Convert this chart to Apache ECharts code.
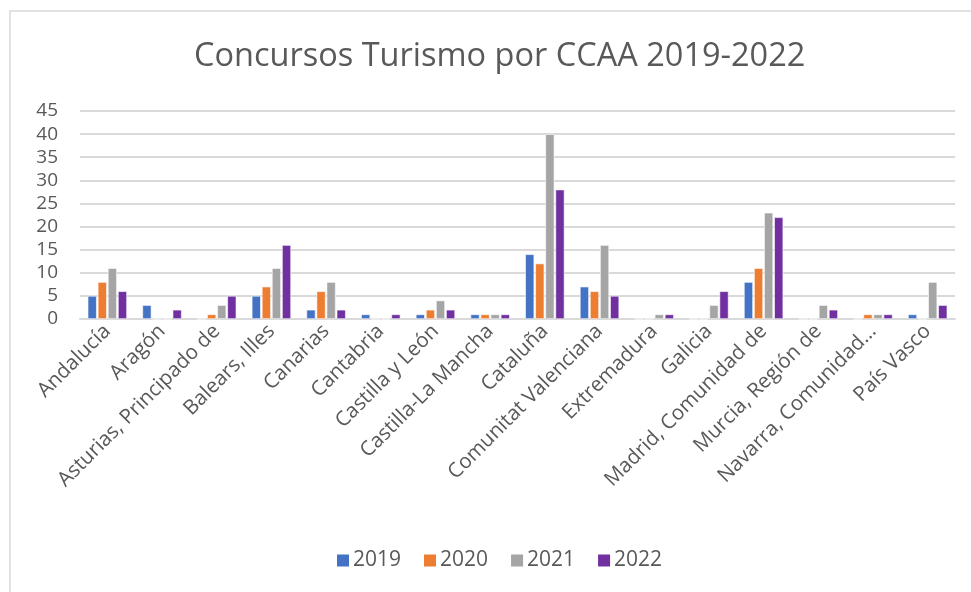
<!DOCTYPE html>
<html>
<head>
<meta charset="utf-8">
<script src="https://cdn.jsdelivr.net/npm/echarts@6/dist/echarts.min.js"></script>
<style>
  html, body { margin: 0; padding: 0; background: #fff; }
  #chart { width: 971px; height: 592px; }
</style>
</head>
<body>
<div id="chart"></div>
<script>
// Concursos por comunidad autónoma
let categories = [
    "Andalucía", "Aragón", "Asturias, Principado de", "Balears, Illes",
    "Canarias", "Cantabria", "Castilla y León", "Castilla-La Mancha",
    "Cataluña", "Comunitat Valenciana", "Extremadura", "Galicia",
    "Madrid, Comunidad de", "Murcia, Región de", "Navarra, Comunidad…", "País Vasco"
];
let years = ["2019", "2020", "2021", "2022"];
let data2019 = [5, 3, 0, 5, 2, 1, 1, 1, 14, 7, 0, 0, 8, 0, 0, 1];
let data2020 = [8, 0, 1, 7, 6, 0, 2, 1, 12, 6, 0, 0, 11, 0, 1, 0];
let data2021 = [11, 0, 3, 11, 8, 0, 4, 1, 40, 16, 1, 3, 23, 3, 1, 8];
let data2022 = [6, 2, 5, 16, 2, 1, 2, 1, 28, 5, 1, 6, 22, 2, 1, 3];
let colors = ["#4472c4", "#ed7d31", "#a5a5a5", "#7030a0"];

let chart = echarts.init(document.getElementById("chart"));
let allData = [data2019, data2020, data2021, data2022];

let series = years.map(function(y, i) {
    return {
        name: y,
        type: "bar",
        data: allData[i],
        barWidth: 9,
        barGap: "12%",
        itemStyle: {
            color: colors[i],
            borderColor: "#fff",
            borderWidth: 0.6
        }
    };
});

let option = {
    animation: false,
    textStyle: { fontFamily: "Open Sans" },
    title: {
        text: "Concursos Turismo por CCAA 2019-2022",
        left: 189,
        top: 35,
        textStyle: {
            fontFamily: "Open Sans",
            fontSize: 32.5,
            fontWeight: "normal",
            color: "#595959"
        }
    },
    legend: {
        bottom: 16,
        left: 330,
        itemWidth: 14,
        itemHeight: 14,
        itemGap: 21,
        icon: "rect",
        textStyle: { fontSize: 21, color: "#595959", padding: [0, 0, 0, -2] },
        data: years
    },
    graphic: [{
        type: "rect",
        shape: { x: 10, y: 11, width: 980, height: 600 },
        style: { fill: "none", stroke: "#d9d9d9", lineWidth: 1.5 },
        silent: true
    }],
    grid: {
        left: 80,
        right: 16,
        top: 111,
        height: 208,
        containLabel: false
    },
    xAxis: {
        type: "category",
        data: categories,
        axisLine: { show: true, lineStyle: { color: "#d9d9d9", width: 2 } },
        axisTick: { show: false },
        axisLabel: {
            interval: 0,
            rotate: 45,
            fontSize: 20.5,
            color: "#595959",
            margin: 9
        }
    },
    yAxis: {
        type: "value",
        min: 0,
        max: 45,
        interval: 5,
        axisLine: { show: false },
        axisTick: { show: false },
        splitLine: { lineStyle: { color: "#d9d9d9", width: 2 } },
        axisLabel: { fontSize: 19, color: "#595959", margin: 22 }
    },
    series: series
};
chart.setOption(option, true);
</script>
</body>
</html>
